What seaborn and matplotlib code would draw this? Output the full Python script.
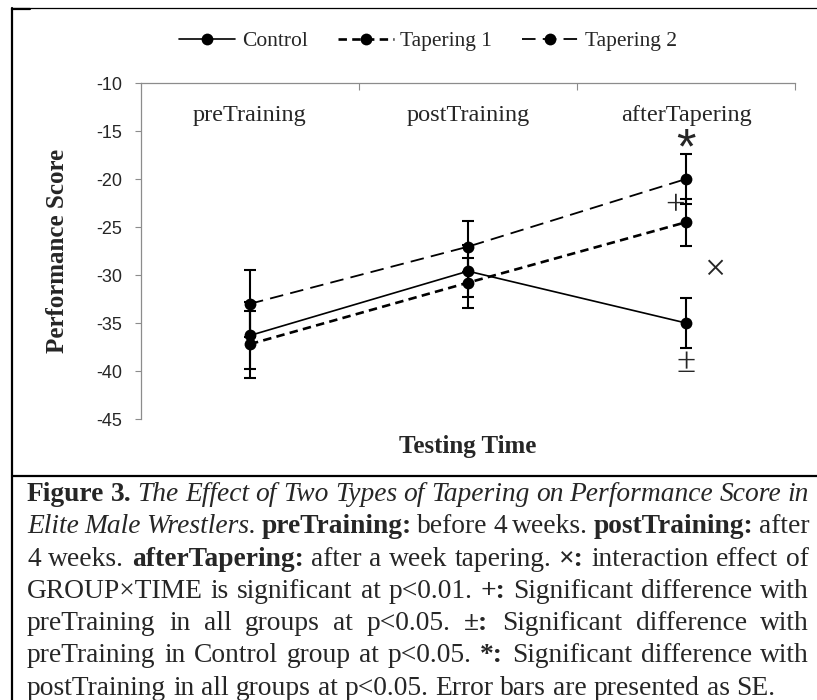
import matplotlib
matplotlib.use("Agg")
import matplotlib.pyplot as plt
from matplotlib.lines import Line2D
from matplotlib.font_manager import FontProperties
import seaborn as sns
import pandas as pd

# data
categories = ["preTraining", "postTraining", "afterTapering"]
groups = ["Control", "Tapering 1", "Tapering 2"]
control_mean = [-36.3, -29.6, -35.0]
control_se = [3.5, 2.7, 2.6]
taper1_mean = [-37.2, -30.8, -24.5]
taper1_se = [3.5, 2.6, 2.45]
taper2_mean = [-33.0, -27.05, -20.0]
taper2_se = [3.5, 2.65, 2.6]
y_ticks = [-10, -15, -20, -25, -30, -35, -40, -45]

caption_lines = [
    [("Figure 3.", "b"), ("The Effect of Two Types of Tapering on Performance Score in", "i")],
    [("Elite Male Wrestlers.", "i"), ("preTraining:", "b"), ("before 4 weeks.", "n"),
     ("postTraining:", "b"), ("after", "n")],
    [("4 weeks.", "n"), ("afterTapering:", "b"), ("after a week tapering.", "n"),
     ("\u00d7:", "b"), ("interaction effect of", "n")],
    [("GROUP\u00d7TIME is significant at p<0.01.", "n"), ("+:", "b"),
     ("Significant difference with", "n")],
    [("preTraining in all groups at p<0.05.", "n"), ("\u00b1:", "b"),
     ("Significant difference with", "n")],
    [("preTraining in Control group at p<0.05.", "n"), ("*:", "b"),
     ("Significant difference with", "n")],
    [("postTraining in all groups at p<0.05. Error bars are presented as SE.", "n")],
]

df = pd.DataFrame({
    "group": [g for g in groups for _ in categories],
    "pos": list(range(len(categories))) * len(groups),
    "score": control_mean + taper1_mean + taper2_mean,
    "se": control_se + taper1_se + taper2_se,
})

sns.set_style("white")
plt.rcParams["font.family"] = ["Liberation Serif", "DejaVu Serif"]

W, H = 817, 700
fig = plt.figure(figsize=(W / 100, H / 100), dpi=100)
ax = fig.add_axes([141 / W, 1 - 419 / H, 654 / W, 336 / H])

line_styles = {
    "Control": dict(linestyle="-", linewidth=1.2),
    "Tapering 1": dict(linestyle=(0, (3.2, 2.0)), linewidth=1.9),
    "Tapering 2": dict(linestyle=(0, (7.5, 4.0)), linewidth=1.3),
}

for g in groups:
    sub = df[df["group"] == g]
    ax.errorbar(sub["pos"], sub["score"], yerr=sub["se"], fmt="none", ecolor="black",
                elinewidth=1.5, capsize=4, capthick=1.5, zorder=2)
    sns.lineplot(data=sub, x="pos", y="score", color="black", marker="o", markersize=8.5,
                 markeredgecolor="black", markeredgewidth=0, errorbar=None, ax=ax,
                 zorder=3, **line_styles[g])

ax.set_xlim(-0.5, len(categories) - 0.5)
ax.set_ylim(min(y_ticks), max(y_ticks))
ax.set_yticks(y_ticks)
ax.set_yticklabels([str(t) for t in y_ticks], family="Liberation Sans", fontsize=13)

# category axis sits at the top (values are negative); labels hang inside
ax.xaxis.set_ticks_position("top")
ax.set_xticks(range(len(categories)))
ax.set_xticklabels(categories, fontsize=17.5)
ax.set_xticks([i + 0.5 for i in range(len(categories))], minor=True)
ax.tick_params(axis="x", which="major", length=0, pad=-16)
ax.tick_params(axis="x", which="minor", length=5, width=0.8, direction="in", color="#8c8c8c")
ax.tick_params(axis="y", which="major", length=4.5, width=0.8, direction="out",
               color="#8c8c8c", pad=9, left=True)
for t in ax.get_xticklabels():
    t.set_va("top")

for side in ["bottom", "right"]:
    ax.spines[side].set_visible(False)
for side in ["top", "left"]:
    ax.spines[side].set_color("#8c8c8c")
    ax.spines[side].set_linewidth(0.9)
ax.grid(False)

ax.set_ylabel("Performance Score", fontsize=18, fontweight="bold")
ax.yaxis.label.set_va("center")
ax.yaxis.set_label_coords(-83 / 654, 0.5)
ax.set_xlabel("Testing Time", fontsize=18, fontweight="bold")
ax.xaxis.set_label_position("bottom")
ax.xaxis.label.set_va("center")
ax.xaxis.set_label_coords(0.5, -28 / 336)

# significance marks
ax.text(2.0, -17.0, "*", ha="center", va="center", fontsize=36, family="Liberation Sans")
ax.text(1.95, -22.9, "+", ha="center", va="center", fontsize=25)
ax.text(2.13, -29.6, "\u00d7", ha="center", va="center", fontsize=27)
ax.text(2.0, -39.2, "\u00b1", ha="center", va="center", fontsize=25)

# legend
handles = [Line2D([], [], color="black", marker="o", markersize=8.5, markeredgewidth=0,
                  **line_styles[g]) for g in groups]
fig.legend(handles, groups, loc="center", bbox_to_anchor=(428 / W, 1 - 41 / H), ncol=3,
           frameon=False, fontsize=15.5, handlelength=2.6, columnspacing=1.4,
           handletextpad=0.3)

# frame around the figure and caption box
fig.add_artist(Line2D([12 / W, 1], [1 - 8 / H, 1 - 8 / H], color="black", lw=0.9))
fig.add_artist(Line2D([12 / W, 30 / W], [1 - 9 / H, 1 - 9 / H], color="black", lw=1.6))
fig.add_artist(Line2D([12 / W, 12 / W], [0, 1 - 8 / H], color="black", lw=1.6))
fig.add_artist(Line2D([12 / W, 1], [1 - 476 / H, 1 - 476 / H], color="black", lw=1.6))

# justified caption
renderer = fig.canvas.get_renderer()
styles = {
    "n": dict(weight="normal", style="normal"),
    "b": dict(weight="bold", style="normal"),
    "i": dict(weight="normal", style="italic"),
}


def text_width(s, st, size):
    fp = FontProperties(family="Liberation Serif", size=size, **styles[st])
    t = fig.text(0, 0, s, fontproperties=fp)
    w = t.get_window_extent(renderer).width
    t.remove()
    return w


left_px, right_px = 27, 809
space10 = text_width("a a", "n", 10) - text_width("aa", "n", 10)
natural = []
for runs in caption_lines:
    words = [(w, st) for txt, st in runs for w in txt.split(" ")]
    natural.append(sum(text_width(w, st, 10) for w, st in words) + space10 * 0.8 * (len(words) - 1))
cap_size = 10 * (right_px - left_px) / max(natural)
space_w = space10 * cap_size / 10

for k, runs in enumerate(caption_lines):
    words = [(w, st) for txt, st in runs for w in txt.split(" ")]
    widths = [text_width(w, st, cap_size) for w, st in words]
    if k < len(caption_lines) - 1:
        gap = (right_px - left_px - sum(widths)) / (len(words) - 1)
    else:
        gap = space_w
    x = left_px
    y = 501 + 32.3 * k
    for (w, st), wd in zip(words, widths):
        fig.text(x / W, 1 - y / H, w, va="baseline", ha="left",
                 fontproperties=FontProperties(family="Liberation Serif", size=cap_size,
                                               **styles[st]))
        x += wd + gap

fig.savefig("out.png", dpi=100)
